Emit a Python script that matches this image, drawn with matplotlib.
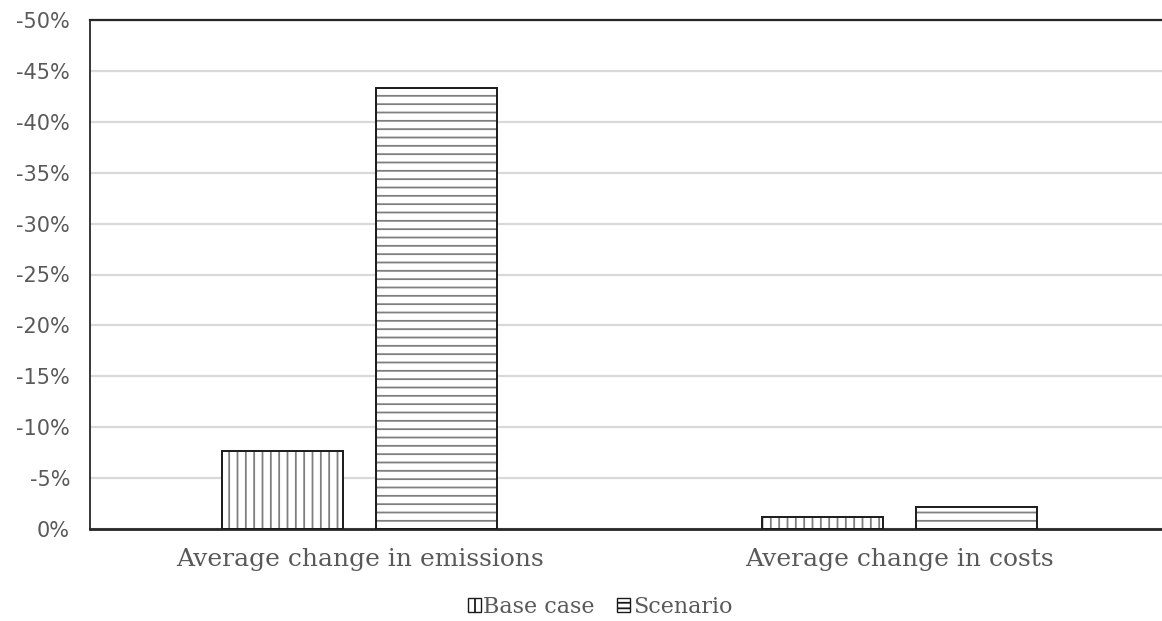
import matplotlib
matplotlib.use("Agg")
import matplotlib.pyplot as plt
from matplotlib.patches import Patch
from matplotlib.ticker import FuncFormatter
import numpy as np

categories = ["Average change in emissions", "Average change in costs"]
base_case = [-7.7, -1.2]
scenario = [-43.3, -2.2]
series_names = ["Base case", "Scenario"]
y_ticks = [0, -5, -10, -15, -20, -25, -30, -35, -40, -45, -50]

W, H = 1162, 621
fig = plt.figure(figsize=(W / 100, H / 100), dpi=100)
ax = fig.add_axes([89.5 / W, 92 / H, 1080 / W, 509 / H])

plt.rcParams["hatch.linewidth"] = 1.3
x = np.arange(len(categories))
bw = 0.224
off = 0.1426
hatch_gray = "#7f7f7f"

for vals, dx, hatch in [(base_case, -off, "||"), (scenario, off, "--")]:
    ax.bar(x + dx, vals, width=bw, color="white", edgecolor=hatch_gray,
           hatch=hatch, linewidth=0, zorder=2)
    ax.bar(x + dx, vals, width=bw, fill=False, edgecolor="#1a1a1a",
           linewidth=1.4, zorder=3)

ax.set_xlim(-0.5, 1.5)
ax.set_ylim(0, -50)
ax.set_yticks(y_ticks)
ax.yaxis.set_major_formatter(FuncFormatter(lambda v, p: f"{v:.0f}%"))
ax.set_xticks(x)
ax.set_xticklabels(categories, family="DejaVu Serif", fontsize=18,
                   color="#595959")
ax.tick_params(axis="y", length=0, pad=14, labelsize=15,
               labelcolor="#595959")
ax.tick_params(axis="x", length=0, pad=14)
for lab in ax.get_yticklabels():
    lab.set_family("DejaVu Sans")

ax.grid(axis="y", color="#d9d9d9", linewidth=1.6, zorder=0)
ax.set_axisbelow(True)
for side in ["left", "top", "bottom"]:
    ax.spines[side].set_color("#262626")
ax.spines["left"].set_linewidth(1.3)
ax.spines["top"].set_linewidth(1.6)
ax.spines["bottom"].set_linewidth(2.0)
ax.spines["right"].set_visible(False)

handles = [Patch(facecolor="white", edgecolor="#1a1a1a", hatch="|", linewidth=1.0),
           Patch(facecolor="white", edgecolor="#1a1a1a", hatch="---", linewidth=1.0)]
fig.legend(handles, series_names, loc="center", bbox_to_anchor=(600 / W, 1 - 607 / H),
           ncol=2, frameon=False, handlelength=0.6, handleheight=0.55,
           handletextpad=0.1, columnspacing=1.0,
           prop={"family": "DejaVu Serif", "size": 16})
for t in fig.legends[0].get_texts():
    t.set_color("#595959")

fig.savefig("out.png", dpi=100)
